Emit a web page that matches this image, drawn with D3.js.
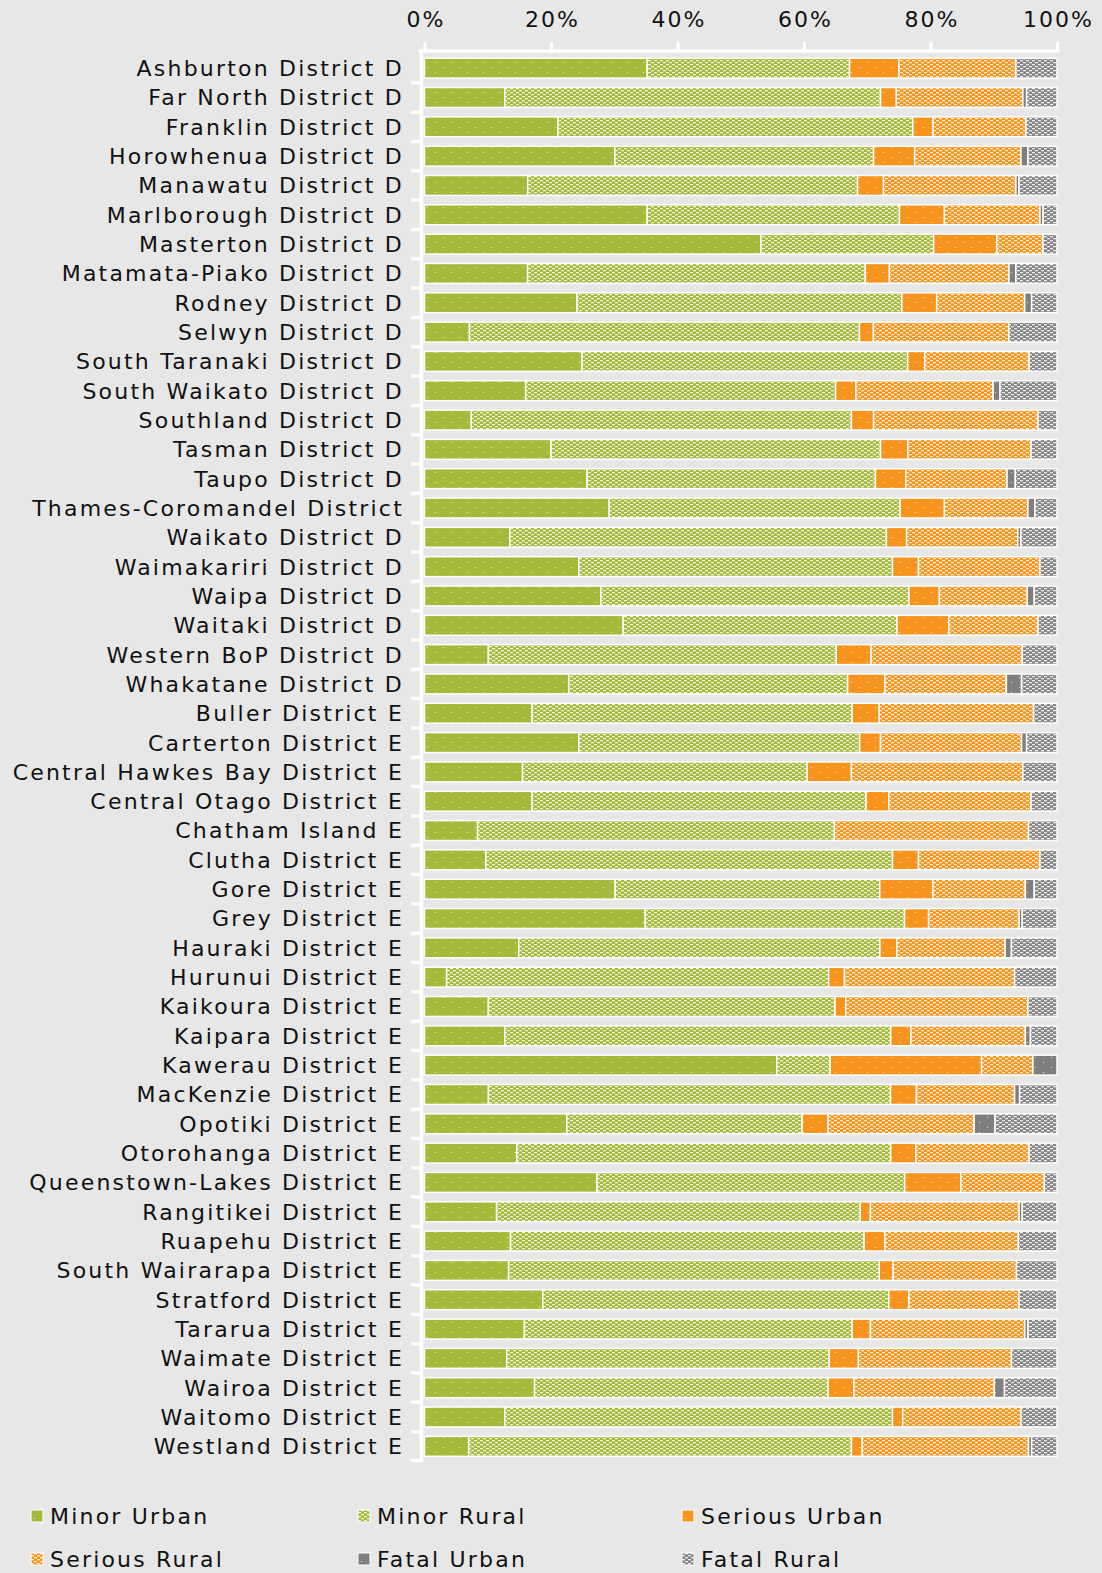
<!DOCTYPE html>
<html>
<head>
<meta charset="utf-8">
<script src="https://cdn.jsdelivr.net/npm/d3@7"></script>
<style>
	body { margin: 0; background: #e7e7e7; }
	svg { display: block; font-family: "DejaVu Sans", Verdana, sans-serif; }
</style>
</head>
<body>
<div class="chart"></div>
<script>
const districts = ["Ashburton District D", "Far North District D", "Franklin District D", "Horowhenua District D",
	"Manawatu District D", "Marlborough District D", "Masterton District D", "Matamata-Piako District D",
	"Rodney District D", "Selwyn District D", "South Taranaki District D", "South Waikato District D",
	"Southland District D", "Tasman District D", "Taupo District D", "Thames-Coromandel District",
	"Waikato District D", "Waimakariri District D", "Waipa District D", "Waitaki District D",
	"Western BoP District D", "Whakatane District D", "Buller District E", "Carterton District E",
	"Central Hawkes Bay District E", "Central Otago District E", "Chatham Island E", "Clutha District E",
	"Gore District E", "Grey District E", "Hauraki District E", "Hurunui District E",
	"Kaikoura District E", "Kaipara District E", "Kawerau District E", "MacKenzie District E",
	"Opotiki District E", "Otorohanga District E", "Queenstown-Lakes District E", "Rangitikei District E",
	"Ruapehu District E", "South Wairarapa District E", "Stratford District E", "Tararua District E",
	"Waimate District E", "Wairoa District E", "Waitomo District E", "Westland District E"];

const minorUrban = [35.2, 12.7, 21.1, 30.1, 16.3, 35.2, 53.2, 16.3, 24.1, 7.1, 24.9, 16.0, 7.4, 20.0, 25.7, 29.2,
	13.5, 24.4, 27.9, 31.4, 10.1, 22.8, 17.0, 24.4, 15.5, 17.0, 8.4, 9.7, 30.1, 34.9, 14.9, 3.5,
	10.1, 12.7, 55.6, 10.1, 22.5, 14.6, 27.3, 11.4, 13.6, 13.3, 18.7, 15.8, 13.0, 17.4, 12.7, 7.0];
const minorRural = [32.0, 59.4, 56.1, 40.9, 52.1, 39.9, 27.3, 53.4, 51.3, 61.6, 51.5, 49.0, 60.1, 52.1, 45.6, 46.0,
	59.6, 49.6, 48.7, 43.3, 55.0, 44.1, 50.6, 44.4, 45.0, 52.8, 56.4, 64.3, 41.8, 41.0, 57.1, 60.4,
	54.8, 61.0, 8.4, 63.5, 37.2, 59.1, 48.7, 57.5, 55.9, 58.6, 54.7, 51.8, 51.0, 46.4, 61.3, 60.5];
const seriousUrban = [7.8, 2.5, 3.2, 6.5, 4.1, 7.1, 10.0, 3.8, 5.5, 2.2, 2.7, 3.2, 3.5, 4.3, 4.8, 7.0,
	3.2, 4.1, 4.8, 8.2, 5.5, 5.9, 4.3, 3.3, 7.0, 3.6, 0, 4.1, 8.4, 3.8, 2.7, 2.5,
	1.7, 3.2, 23.9, 4.1, 4.1, 4.0, 8.9, 1.6, 3.3, 2.2, 3.2, 2.9, 4.6, 4.1, 1.6, 1.7];
const seriousRural = [18.5, 20.0, 14.7, 16.8, 20.9, 15.1, 7.3, 18.9, 13.9, 21.4, 16.5, 21.7, 26.0, 19.5, 16.0, 13.2,
	17.6, 19.2, 13.9, 14.1, 23.9, 19.2, 24.4, 22.3, 27.1, 22.5, 30.7, 19.2, 14.6, 14.3, 17.1, 26.9,
	28.8, 18.1, 8.1, 15.5, 23.1, 17.9, 13.2, 23.5, 21.1, 19.5, 17.4, 24.4, 24.2, 22.2, 18.7, 26.3];
const fatalUrban = [0, 0.6, 0, 1.1, 0.5, 0.5, 0, 1.1, 1.1, 0, 0, 1.1, 0, 0, 1.3, 1.1,
	0.5, 0, 1.1, 0, 0, 2.4, 0, 0.8, 0, 0, 0, 0, 1.4, 0.5, 1.0, 0,
	0, 0.8, 3.8, 0.8, 3.3, 0, 0, 0.5, 0, 0, 0, 0.5, 0, 1.6, 0, 0.5];
const fatalRural = [6.5, 4.8, 4.9, 4.6, 6.0, 2.2, 2.2, 6.5, 4.0, 7.6, 4.4, 9.0, 3.0, 4.1, 6.6, 3.5,
	5.7, 2.7, 3.6, 3.0, 5.5, 5.6, 3.7, 4.8, 5.4, 4.1, 4.5, 2.7, 3.6, 5.5, 7.2, 6.7,
	4.6, 4.2, 0, 5.9, 9.8, 4.4, 2.0, 5.5, 6.1, 6.4, 6.0, 4.6, 7.2, 8.3, 5.7, 4.0];

const seriesNames = ["Minor Urban", "Minor Rural", "Serious Urban", "Serious Rural", "Fatal Urban", "Fatal Rural"];
const seriesValues = [minorUrban, minorRural, seriousUrban, seriousRural, fatalUrban, fatalRural];
const xTicks = [0, 0.2, 0.4, 0.6, 0.8, 1];

const green = "#a7b93a", orange = "#f7941d", grey = "#7f7f7f";

let rows = districts.map((name, i) => {
	let row = { name: name };
	seriesNames.forEach((s, j) => row[s] = seriesValues[j][i]);
	return row;
});

let svg = d3.select('.chart')
	.append('svg')
	.attr('width', 1102)
	.attr('height', 1573);

// fill patterns: "dots" = sparse white dots, "weave" = dense white dashes
let defs = svg.append('defs');
function dotPattern(id, color) {
	let p = defs.append('pattern')
		.attr('id', id)
		.attr('patternUnits', 'userSpaceOnUse')
		.attr('width', 16)
		.attr('height', 10);
	p.append('rect').attr('width', 16).attr('height', 10).attr('fill', color);
	p.append('rect').attr('x', 3).attr('y', 2).attr('width', 1).attr('height', 1).attr('fill', '#fff').attr('opacity', 0.8);
	p.append('rect').attr('x', 11).attr('y', 7).attr('width', 1).attr('height', 1).attr('fill', '#fff').attr('opacity', 0.8);
}
function weavePattern(id, color) {
	let p = defs.append('pattern')
		.attr('id', id)
		.attr('patternUnits', 'userSpaceOnUse')
		.attr('width', 6)
		.attr('height', 4);
	p.append('rect').attr('width', 6).attr('height', 4).attr('fill', color);
	p.append('rect').attr('x', 0).attr('y', 0).attr('width', 3).attr('height', 1.3).attr('fill', '#fff').attr('opacity', 0.85);
	p.append('rect').attr('x', 3).attr('y', 2).attr('width', 3).attr('height', 1.3).attr('fill', '#fff').attr('opacity', 0.85);
}
dotPattern('p0', green);
weavePattern('p1', green);
dotPattern('p2', orange);
weavePattern('p3', orange);
dotPattern('p4', grey);
weavePattern('p5', '#858585');

let x = d3.scaleLinear()
	.domain([0, 1])
	.range([424.5, 1057]);

let y = d3.scaleBand()
	.domain(districts)
	.range([53.5, 1461])
	.paddingInner(0.32)
	.paddingOuter(0.16);

let stacked = d3.stack()
	.keys(seriesNames)
	.offset(d3.stackOffsetExpand)(rows);

svg.append('g')
	.selectAll('g')
	.data(stacked)
	.join('g')
	.attr('fill', (d, i) => 'url(#p' + i + ')')
	.selectAll('rect')
	.data(d => d.filter(v => v[1] - v[0] > 0))
	.join('rect')
	.attr('x', d => x(d[0]))
	.attr('y', d => y(d.data.name))
	.attr('width', d => x(d[1]) - x(d[0]))
	.attr('height', y.bandwidth())
	.attr('stroke', '#fff')
	.attr('stroke-width', 1.5);

// top axis
let axisY = 51;
let xAxis = svg.append('g')
	.attr('transform', 'translate(0,' + axisY + ')')
	.call(d3.axisTop(x).tickValues(xTicks).tickFormat(d3.format('.0%')).tickSize(8).tickPadding(16));
xAxis.select('.domain').remove();
xAxis.selectAll('.tick line').attr('stroke', '#fff').attr('stroke-width', 3).attr('stroke-linecap', 'round');
xAxis.selectAll('.tick text')
	.attr('font-size', '22px')
	.attr('letter-spacing', '2px')
	.attr('dx', '1px')
	.attr('fill', '#111')
	.attr('font-family', '"DejaVu Sans", sans-serif');
svg.append('line')
	.attr('x1', 420).attr('x2', x(1) + 1)
	.attr('y1', axisY).attr('y2', axisY)
	.attr('stroke', '#fff').attr('stroke-width', 3.5).attr('stroke-linecap', 'round');

// left axis
let axisX = 421.5;
svg.append('line')
	.attr('x1', axisX).attr('x2', axisX)
	.attr('y1', axisY).attr('y2', 1460)
	.attr('stroke', '#fff').attr('stroke-width', 3.5).attr('stroke-linecap', 'round');

let bounds = districts.map(d => y(d) - y.step() * y.paddingInner() / 2).concat([y.range()[1] - 0.5]);
svg.append('g')
	.selectAll('line')
	.data(bounds.slice(1))
	.join('line')
	.attr('x1', axisX - 9).attr('x2', axisX)
	.attr('y1', d => d).attr('y2', d => d)
	.attr('stroke', '#fff').attr('stroke-width', 3.5).attr('stroke-linecap', 'round');

svg.append('g')
	.selectAll('text')
	.data(districts)
	.join('text')
	.text(d => d)
	.attr('x', 404)
	.attr('y', d => y(d) + y.bandwidth() / 2)
	.attr('dy', '0.36em')
	.attr('text-anchor', 'end')
	.attr('font-size', '22px')
	.attr('letter-spacing', '2.2px')
	.attr('fill', '#111');

// legend
let legendCols = [31, 358, 682];
let legendRows = [1516, 1559];
let legend = svg.append('g')
	.selectAll('g')
	.data(seriesNames)
	.join('g')
	.attr('transform', (d, i) => 'translate(' + legendCols[i % 3] + ',' + legendRows[Math.floor(i / 3)] + ')');
legend.append('rect')
	.attr('x', 0).attr('y', -6)
	.attr('width', 12).attr('height', 12)
	.attr('fill', (d, i) => 'url(#p' + i + ')')
	.attr('stroke', '#fff').attr('stroke-width', 1);
legend.append('text')
	.text(d => d)
	.attr('x', 19)
	.attr('dy', '0.36em')
	.attr('font-size', '22px')
	.attr('letter-spacing', '2.2px')
	.attr('fill', '#111');
</script>
</body>
</html>
